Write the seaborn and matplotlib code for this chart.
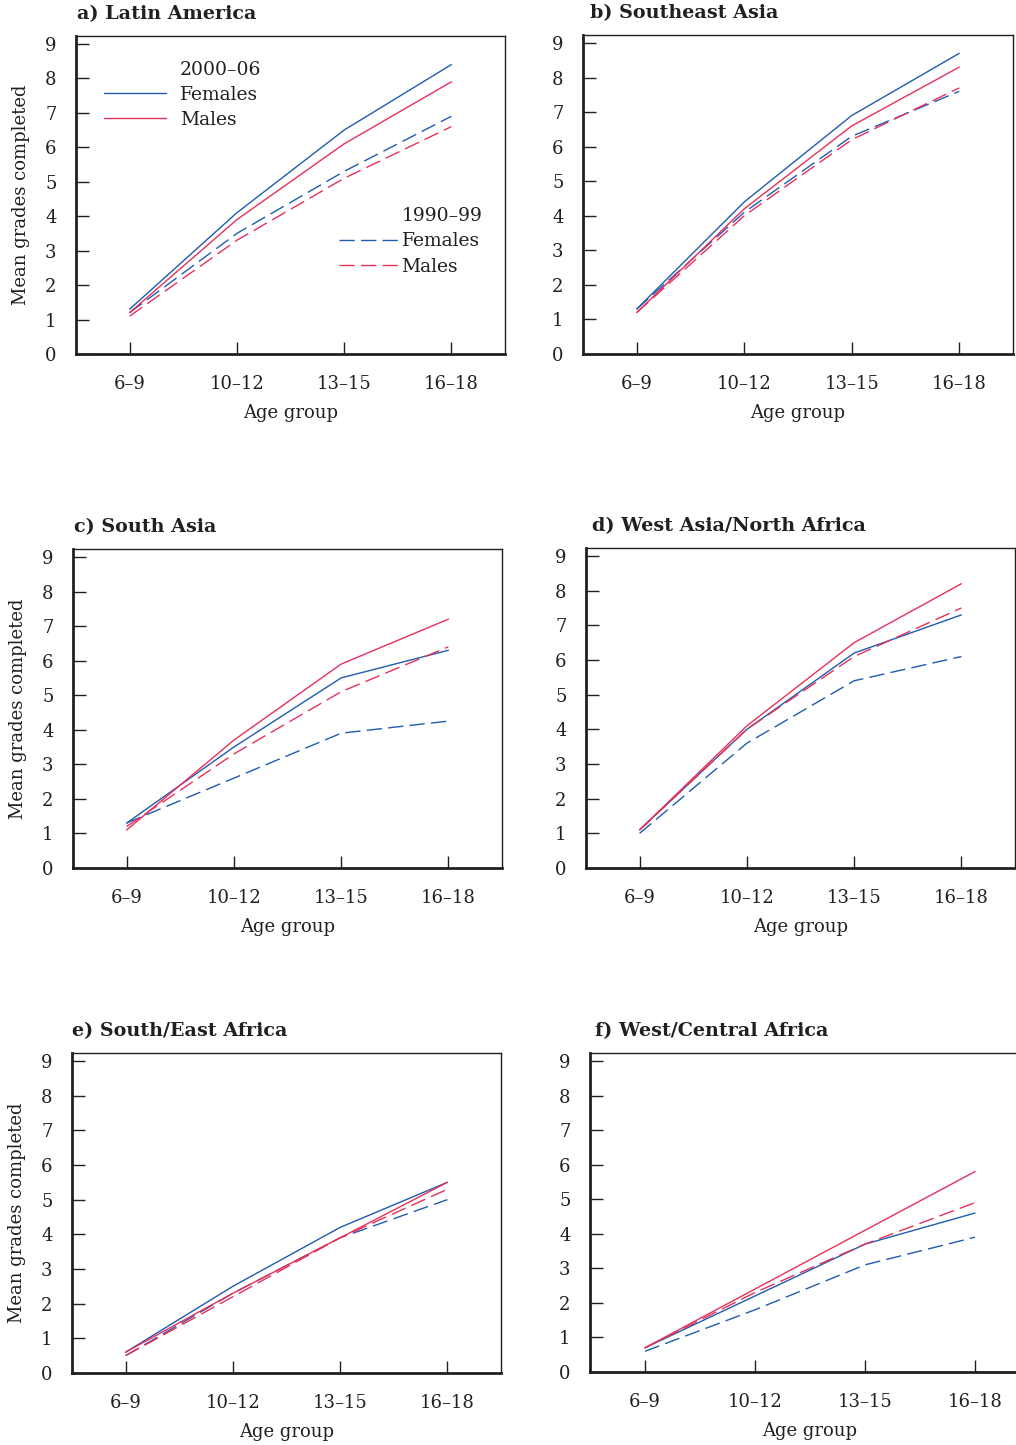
import pandas as pd
import seaborn as sns
import matplotlib
matplotlib.use("Agg")
import matplotlib.pyplot as plt
from matplotlib.lines import Line2D

# data
age_groups = ["6–9", "10–12", "13–15", "16–18"]
regions = ["a) Latin America", "b) Southeast Asia", "c) South Asia",
           "d) West Asia/North Africa", "e) South/East Africa", "f) West/Central Africa"]

# mean grades completed, one list per region and series
fem_2000 = [[1.3, 4.1, 6.5, 8.4], [1.3, 4.4, 6.9, 8.7], [1.3, 3.5, 5.5, 6.3],
            [1.1, 4.0, 6.2, 7.3], [0.6, 2.5, 4.2, 5.5], [0.7, 2.2, 3.7, 4.6]]
mal_2000 = [[1.2, 3.9, 6.1, 7.9], [1.2, 4.2, 6.6, 8.3], [1.1, 3.7, 5.9, 7.2],
            [1.1, 4.1, 6.5, 8.2], [0.6, 2.3, 3.9, 5.5], [0.7, 2.4, 4.1, 5.8]]
fem_1990 = [[1.2, 3.5, 5.3, 6.9], [1.3, 4.1, 6.3, 7.6], [1.3, 2.6, 3.9, 4.25],
            [1.0, 3.6, 5.4, 6.1], [0.5, 2.3, 3.9, 5.0], [0.6, 1.8, 3.1, 3.9]]
mal_1990 = [[1.1, 3.3, 5.1, 6.6], [1.2, 4.0, 6.2, 7.7], [1.2, 3.3, 5.1, 6.4],
            [1.1, 4.0, 6.1, 7.5], [0.5, 2.2, 3.9, 5.3], [0.7, 2.3, 3.7, 4.9]]

BLUE = "#1f5cb0"
RED = "#e8305a"
TXT = "#231f20"

sns.set_style("white")
plt.rcParams["font.family"] = ["DejaVu Serif"]
plt.rcParams["text.color"] = TXT
plt.rcParams["axes.labelcolor"] = TXT

W, H = 1016, 1445
fig = plt.figure(figsize=(W / 100, H / 100), dpi=100)

# axes boxes in pixels: left, top, right, bottom
boxes = [(76, 36, 505, 354), (583, 35, 1013, 354),
         (73, 549, 502, 868), (586, 548, 1015, 868),
         (72, 1053, 501, 1373), (590, 1053, 1030, 1372)]
# title start relative to the axes left edge, pixels
title_shift = [1, 7, 1, 6, 0, 5]

dash = (11, 4.5)

for i, region in enumerate(regions):
    l, t, r, b = boxes[i]
    ax = fig.add_axes([l / W, 1 - b / H, (r - l) / W, (b - t) / H])

    rows = []
    for sex, period, vals in [("Females", "2000–06", fem_2000[i]),
                              ("Males", "2000–06", mal_2000[i]),
                              ("Females", "1990–99", fem_1990[i]),
                              ("Males", "1990–99", mal_1990[i])]:
        for age, v in zip(age_groups, vals):
            rows.append({"age": age, "grades": v, "sex": sex, "period": period})
    df = pd.DataFrame(rows)

    sns.lineplot(data=df, x="age", y="grades", hue="sex", style="period",
                 palette={"Females": BLUE, "Males": RED},
                 dashes={"2000–06": "", "1990–99": dash},
                 linewidth=1.0, legend=False, ax=ax, sort=False)

    ax.set_xlim(-0.5, 3.5)
    ax.set_ylim(0, 9.23)
    ax.set_yticks(range(10))
    ax.tick_params(direction="in", length=9, width=1.0, labelsize=13,
                   colors=TXT, bottom=True, left=True)
    ax.tick_params(axis="y", pad=14)
    ax.tick_params(axis="x", pad=15)
    for s in ax.spines.values():
        s.set_color(TXT)
        s.set_linewidth(1.0)
    ax.spines["left"].set_linewidth(2.0)
    ax.spines["bottom"].set_linewidth(2.0)

    ax.set_xlabel("Age group", fontsize=13, labelpad=8)
    if i % 2 == 0:
        ax.set_ylabel("Mean grades completed", fontsize=13, labelpad=11)
    else:
        ax.set_ylabel("")

    ax.set_title(region, loc="left", fontsize=13.8, fontweight="bold",
                 pad=12.5, x=title_shift[i] / (r - l))

    if i == 0:
        blank = Line2D([], [], color="none")
        h1 = [blank, Line2D([], [], color=BLUE, lw=1.0),
              Line2D([], [], color=RED, lw=1.0)]
        leg1 = ax.legend(h1, ["2000–06", "Females", "Males"], frameon=False,
                         fontsize=13.5, loc="upper left",
                         bbox_to_anchor=(0.047, 0.946), handlelength=3.3,
                         handletextpad=0.75, labelspacing=0.38,
                         borderaxespad=0)
        ax.add_artist(leg1)
        h2 = [blank, Line2D([], [], color=BLUE, lw=1.0, dashes=dash),
              Line2D([], [], color=RED, lw=1.0, dashes=dash)]
        ax.legend(h2, ["1990–99", "Females", "Males"], frameon=False,
                  fontsize=13.5, loc="upper left",
                  bbox_to_anchor=(0.595, 0.485), handlelength=3.15,
                  handletextpad=0.2, labelspacing=0.38, borderaxespad=0)

fig.savefig("out.png", dpi=100)
